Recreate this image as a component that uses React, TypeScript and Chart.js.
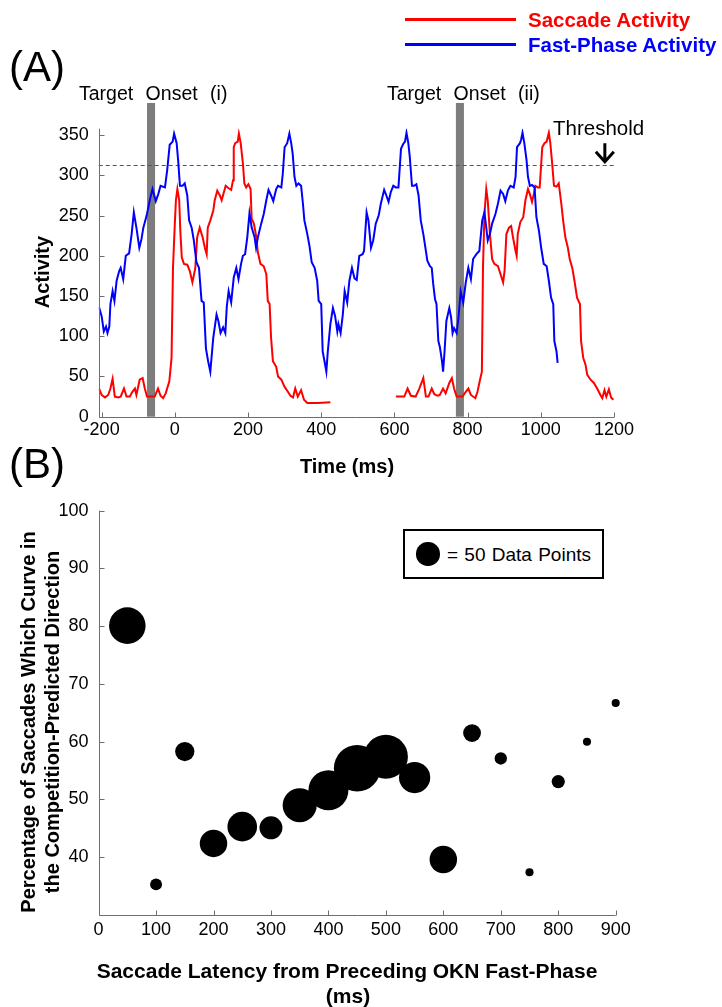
import React, { useEffect, useRef } from "react";
import { Chart, registerables } from "chart.js";

Chart.register(...registerables);

const FONT = '"Liberation Sans", Arial, Helvetica, sans-serif';

// ---------------- Panel A data ----------------
const timeTicks = [-200, 0, 200, 400, 600, 800, 1000, 1200];
const activityTicks = [0, 50, 100, 150, 200, 250, 300, 350];

const fastPhaseTimes = [
  -207, -200, -194, -188, -184, -179, -176, -170, -165, -159,
  -152, -148, -141, -134, -125, -118, -112, -105, -97, -91,
  -86, -77, -68, -61, -52, -45, -39, -27, -21, -14,
  -6, -2, 5, 9, 14, 21, 27, 34, 39, 46,
  52, 59, 66, 73, 79, 85, 91, 97, 105, 114,
  119, 125, 132, 138, 142, 147, 154, 161, 168, 174,
  181, 186, 192, 198, 204, 210, 218, 222, 227, 236,
  243, 250, 256, 263, 269, 277, 282, 291, 295, 300,
  307, 313, 318, 322, 327, 332, 338, 345, 350, 354,
  362, 368, 374, 382, 389, 393, 400, 404, 409, 414,
  418, 425, 432, 438, 444, 447, 453, 459, 464, 471,
  477, 484, 491, 497, 504, 513, 517, 524, 529, 536,
  542, 549, 557, 563, 572, 578, 584, 590, 597, 604,
  611, 618, 624, 629, 633, 638, 642, 648, 654, 660,
  666, 672, 679, 684, 690, 697, 702, 706, 711, 715,
  720, 724, 730, 733, 737, 742, 750, 755, 759, 763,
  770, 775, 781, 788, 795, 802, 809, 815, 824, 832,
  840, 846, 851, 855, 861, 867, 876, 883, 890, 897,
  903, 910, 917, 926, 931, 935, 943, 946, 950, 955,
  961, 965, 970, 976, 983, 988, 995, 1001, 1008, 1016,
  1022, 1028, 1034, 1037, 1043, 1046,
];
const fastPhaseActivity = [
  136, 125, 106, 112, 104, 112, 140, 156, 144, 169,
  181, 185, 171, 200, 203, 227, 254, 235, 210, 221,
  235, 250, 270, 283, 268, 277, 287, 285, 306, 338,
  342, 352, 340, 319, 287, 287, 290, 275, 244, 235,
  219, 192, 185, 144, 142, 85, 69, 56, 98, 127,
  119, 104, 111, 104, 137, 156, 142, 173, 185, 171,
  190, 200, 202, 223, 253, 235, 223, 210, 223, 240,
  252, 269, 282, 275, 268, 283, 287, 285, 302, 335,
  340, 352, 340, 327, 298, 287, 290, 287, 265, 244,
  227, 212, 192, 185, 169, 144, 140, 81, 69, 56,
  81, 115, 135, 125, 106, 115, 104, 127, 156, 142,
  169, 185, 172, 170, 200, 202, 206, 254, 244, 210,
  219, 240, 250, 265, 282, 275, 267, 279, 287, 285,
  285, 333, 339, 342, 353, 340, 323, 287, 287, 289,
  275, 244, 227, 212, 194, 187, 185, 165, 146, 140,
  94, 87, 69, 56, 81, 119, 135, 123, 104, 110,
  104, 123, 156, 142, 167, 185, 171, 196, 202, 206,
  244, 254, 235, 219, 227, 240, 252, 265, 281, 277,
  268, 281, 287, 285, 298, 335, 340, 344, 353, 340,
  319, 298, 287, 288, 285, 248, 231, 210, 190, 187,
  169, 148, 140, 94, 81, 67,
];

const saccadeTimes = [
  -207, -200, -191, -182, -176, -170, -164, -155, -148, -139,
  -132, -123, -116, -109, -105, -96, -88, -82, -76, -64,
  -55, -46, -39, -32, -25, -15, -9, -5, 0, 3,
  7, 12, 15, 19, 25, 34, 41, 48, 56, 61,
  68, 76, 82, 87, 90, 97, 105, 109, 116, 123,
  128, 134, 139, 147, 154, 159, 161, 165, 172, 175,
  180, 186, 190, 195, 201, 207, 210, 216, 222, 227,
  234, 243, 250, 254, 259, 263, 268, 277, 282, 291,
  300, 309, 316, 323, 329, 336, 345, 353, 362, 391,
  425, 500, 604, 627, 636, 645, 658, 668, 679, 686,
  693, 702, 709, 718, 724, 733, 740, 750, 757, 763,
  770, 786, 795, 802, 809, 821, 827, 833, 839, 842,
  846, 851, 855, 861, 867, 873, 883, 890, 897, 901,
  906, 913, 919, 924, 931, 934, 937, 944, 952, 958,
  965, 970, 976, 981, 985, 992, 997, 1004, 1010, 1016,
  1022, 1026, 1031, 1036, 1043, 1049, 1056, 1061, 1067, 1074,
  1079, 1086, 1092, 1099, 1107, 1110, 1116, 1122, 1127, 1136,
  1145, 1154, 1163, 1168, 1174, 1179, 1186, 1192, 1198,
];
const saccadeActivity = [
  35, 27, 24, 27, 35, 47, 25, 24, 25, 35,
  25, 25, 31, 35, 27, 46, 48, 35, 25, 25,
  25, 35, 26, 23, 29, 44, 73, 185, 240, 269,
  283, 269, 231, 198, 190, 189, 181, 167, 185, 223,
  235, 223, 210, 202, 235, 244, 256, 269, 281, 275,
  269, 279, 287, 284, 282, 294, 335, 340, 342, 352,
  340, 315, 290, 285, 289, 283, 246, 240, 225, 204,
  190, 187, 177, 144, 140, 98, 69, 62, 50, 46,
  37, 31, 26, 24, 35, 25, 33, 21, 17, 17,
  18, null, 25, 25, 35, 26, 25, 35, 48, 25,
  25, 35, 28, 26, 27, 35, 29, 42, 48, 35,
  25, 25, 31, 35, 27, 23, 31, 44, 56, 185,
  252, 283, 269, 227, 196, 190, 187, 177, 167, 181,
  227, 235, 237, 223, 206, 200, 227, 242, 248, 269,
  283, 277, 267, 277, 287, 285, 285, 335, 340, 342,
  353, 340, 315, 287, 286, 290, 265, 244, 223, 210,
  196, 185, 169, 148, 140, 94, 73, 65, 52, 46,
  42, 35, 27, 23, 33, 25, 34, 24, 21,
];

const targetOnsets = [-65, 779];
const onsetBarWidthMs = 22;
const onsetBarTop = 390;
const threshold = 313;
const thresholdArrowTime = 1175;

// ---------------- Panel B data ----------------
const latencyTicks = [0, 100, 200, 300, 400, 500, 600, 700, 800, 900];
const percentTicks = [40, 50, 60, 70, 80, 90, 100];
const latencies = [50, 100, 150, 200, 250, 300, 350, 400, 450, 500, 550, 600, 650, 700, 750, 800, 850, 900];
const percentages = [80.1, 35.3, 58.3, 42.4, 45.3, 45.1, 49.0, 51.6, 55.4, 57.4, 53.8, 39.6, 61.5, 57.1, 37.4, 53.1, 60.0, 66.7];
const pointCounts = [122, 13, 34, 69, 80, 48, 106, 146, 198, 177, 89, 69, 29, 14, 6, 16, 6, 6];
const legendCount = 50;
const legendRadius = 11.7;

const AXIS_COLOR = "#6e6e6e";

const matlabAxes = {
  id: "matlabAxes",
  afterDraw(chart: any) {
    const { ctx, chartArea: ca, scales } = chart;
    const x = scales.x;
    const y = scales.y;
    ctx.save();
    ctx.strokeStyle = AXIS_COLOR;
    ctx.lineWidth = 1;
    ctx.beginPath();
    const l = Math.round(ca.left) + 0.5;
    const b = Math.round(ca.bottom) + 0.5;
    ctx.moveTo(l, ca.top);
    ctx.lineTo(l, b);
    ctx.lineTo(ca.right, b);
    x.ticks.forEach((t: any) => {
      const px = Math.round(x.getPixelForValue(t.value)) + 0.5;
      ctx.moveTo(px, b);
      ctx.lineTo(px, b - 5);
    });
    y.ticks.forEach((t: any) => {
      const py = Math.round(y.getPixelForValue(t.value)) + 0.5;
      ctx.moveTo(l, py);
      ctx.lineTo(l + 5, py);
    });
    ctx.stroke();
    ctx.restore();
  },
};

const panelADecor = {
  id: "panelADecor",
  beforeDatasetsDraw(chart: any) {
    const { ctx, chartArea: ca, scales } = chart;
    const x = scales.x;
    const y = scales.y;
    ctx.save();
    ctx.fillStyle = "#7d7d7d";
    targetOnsets.forEach((t) => {
      const x0 = x.getPixelForValue(t - onsetBarWidthMs / 2);
      const x1 = x.getPixelForValue(t + onsetBarWidthMs / 2);
      const top = y.getPixelForValue(onsetBarTop);
      ctx.fillRect(x0, top, x1 - x0, ca.bottom - top);
    });
    const ty = Math.round(y.getPixelForValue(threshold)) + 0.5;
    ctx.strokeStyle = "#555";
    ctx.lineWidth = 1;
    ctx.setLineDash([4, 3]);
    ctx.beginPath();
    ctx.moveTo(ca.left, ty);
    ctx.lineTo(ca.right, ty);
    ctx.stroke();
    ctx.restore();
  },
  afterDraw(chart: any) {
    const { ctx, scales } = chart;
    const x = scales.x;
    const y = scales.y;
    const ax = x.getPixelForValue(thresholdArrowTime);
    const y0 = y.getPixelForValue(340);
    const y1 = y.getPixelForValue(317);
    ctx.save();
    ctx.strokeStyle = "#000";
    ctx.lineWidth = 3;
    ctx.lineCap = "butt";
    ctx.beginPath();
    ctx.moveTo(ax, y0);
    ctx.lineTo(ax, y1);
    ctx.moveTo(ax - 9, y1 - 10);
    ctx.lineTo(ax, y1);
    ctx.lineTo(ax + 9, y1 - 10);
    ctx.stroke();
    ctx.restore();
  },
};

const tickFont = { size: 18, family: FONT };

function Label(props: any) {
  const { x, y, align = "left", rotate = false, style = {}, children } = props;
  let transform = align === "center" ? "translate(-50%, -50%)" : "translate(0, -50%)";
  if (rotate) transform = "translate(-50%, -50%) rotate(-90deg)";
  return (
    <div
      style={{
        position: "absolute",
        left: x,
        top: y,
        transform,
        whiteSpace: "nowrap",
        lineHeight: 1,
        fontFamily: FONT,
        color: "#000",
        ...style,
      }}
    >
      {children}
    </div>
  );
}

export default function App() {
  const topRef = useRef<HTMLCanvasElement>(null);
  const botRef = useRef<HTMLCanvasElement>(null);

  useEffect(() => {
    Chart.defaults.font.family = FONT;

    const fastPhaseData = fastPhaseTimes.map((t, i) => ({ x: t, y: fastPhaseActivity[i] }));
    const saccadeData = saccadeTimes.map((t, i) => ({ x: t, y: saccadeActivity[i] }));

    const chartA = new Chart(topRef.current!, {
      type: "line",
      data: {
        datasets: [
          {
            label: "Fast-Phase Activity",
            data: fastPhaseData as any,
            borderColor: "#0000ff",
            borderWidth: 2,
            pointRadius: 0,
            tension: 0,
            spanGaps: false,
          },
          {
            label: "Saccade Activity",
            data: saccadeData as any,
            borderColor: "#ff0000",
            borderWidth: 2,
            pointRadius: 0,
            tension: 0,
            spanGaps: false,
          },
        ],
      },
      options: {
        animation: false,
        responsive: false,
        events: [],
        layout: { padding: { top: 128.7, right: 108, bottom: 0, left: 0 } },
        plugins: { legend: { display: false }, tooltip: { enabled: false } },
        scales: {
          x: {
            type: "linear",
            min: -208,
            max: 1200,
            afterBuildTicks: (s: any) => {
              s.ticks = timeTicks.map((v) => ({ value: v }));
            },
            afterFit: (s: any) => {
              s.height = 63.3;
            },
            grid: { display: false, drawTicks: false },
            border: { display: false },
            ticks: {
              font: tickFont,
              color: "#000",
              padding: 3,
              maxRotation: 0,
              autoSkip: false,
              callback: (v: any) => String(v),
            },
          },
          y: {
            type: "linear",
            min: 0,
            max: 358,
            afterBuildTicks: (s: any) => {
              s.ticks = activityTicks.map((v) => ({ value: v }));
            },
            afterFit: (s: any) => {
              s.width = 98.7;
            },
            grid: { display: false, drawTicks: false },
            border: { display: false },
            ticks: {
              font: tickFont,
              color: "#000",
              padding: 10,
              autoSkip: false,
              callback: (v: any) => String(v),
            },
          },
        },
      },
      plugins: [panelADecor, matlabAxes],
    });

    const bubbleData = latencies.map((lat, i) => ({
      x: lat,
      y: percentages[i],
      r: legendRadius * Math.sqrt(pointCounts[i] / legendCount),
    }));

    const chartB = new Chart(botRef.current!, {
      type: "bubble",
      data: {
        datasets: [
          {
            label: "Saccades",
            data: bubbleData,
            backgroundColor: "#000",
            borderWidth: 0,
            hoverRadius: 0,
            clip: false as any,
          },
        ],
      },
      options: {
        animation: false,
        responsive: false,
        events: [],
        layout: { padding: { top: 30.7, right: 106.3, bottom: 0, left: 0 } },
        plugins: { legend: { display: false }, tooltip: { enabled: false } },
        scales: {
          x: {
            type: "linear",
            min: 0,
            max: 900,
            afterBuildTicks: (s: any) => {
              s.ticks = latencyTicks.map((v) => ({ value: v }));
            },
            afterFit: (s: any) => {
              s.height = 92;
            },
            grid: { display: false, drawTicks: false },
            border: { display: false },
            ticks: {
              font: tickFont,
              color: "#000",
              padding: 4,
              maxRotation: 0,
              autoSkip: false,
              callback: (v: any) => String(v),
            },
          },
          y: {
            type: "linear",
            min: 30,
            max: 100,
            afterBuildTicks: (s: any) => {
              s.ticks = percentTicks.map((v) => ({ value: v }));
            },
            afterFit: (s: any) => {
              s.width = 98.6;
            },
            grid: { display: false, drawTicks: false },
            border: { display: false },
            ticks: {
              font: tickFont,
              color: "#000",
              padding: 10,
              autoSkip: false,
              callback: (v: any) => String(v),
            },
          },
        },
      },
      plugins: [matlabAxes],
    });

    return () => {
      chartA.destroy();
      chartB.destroy();
    };
  }, []);

  const boldTitle = { fontWeight: "bold", fontSize: 20 };
  const boldTitleB = { fontWeight: "bold", fontSize: 21 };

  return (
    <div
      style={{
        position: "absolute",
        left: 0,
        top: 0,
        width: 722,
        height: 1007,
        background: "#fff",
        overflow: "hidden",
        fontFamily: FONT,
      }}
    >
      <canvas
        ref={topRef}
        width={722}
        height={480}
        style={{ position: "absolute", left: 0, top: 0, width: 722, height: 480 }}
      />
      <canvas
        ref={botRef}
        width={722}
        height={527}
        style={{ position: "absolute", left: 0, top: 480, width: 722, height: 527 }}
      />

      {/* Panel A legend */}
      <div style={{ position: "absolute", left: 405, top: 17.5, width: 111, height: 3, background: "#ff0000" }} />
      <div style={{ position: "absolute", left: 405, top: 42.5, width: 111, height: 3, background: "#0000ff" }} />
      <Label x={528} y={20} style={{ ...boldTitle, fontSize: 20.5, color: "#ff0000" }}>Saccade Activity</Label>
      <Label x={528} y={45} style={{ ...boldTitle, fontSize: 20.5, color: "#0000ff" }}>Fast-Phase Activity</Label>

      <Label x={37} y={67} align="center" style={{ fontSize: 42 }}>(A)</Label>
      <Label x={37} y={464} align="center" style={{ fontSize: 42 }}>(B)</Label>

      <Label x={79} y={94} style={{ fontSize: 19.5, wordSpacing: 7 }}>Target Onset (i)</Label>
      <Label x={387} y={94} style={{ fontSize: 19.5, wordSpacing: 7 }}>Target Onset (ii)</Label>
      <Label x={553} y={128} style={{ fontSize: 20.5 }}>Threshold</Label>

      <Label x={42} y={272} rotate style={boldTitle}>Activity</Label>
      <Label x={347} y={466} align="center" style={boldTitle}>Time (ms)</Label>

      {/* Panel B titles */}
      <Label x={40} y={722} rotate style={{ fontWeight: "bold", fontSize: 20, lineHeight: "24px", textAlign: "center" }}>
        Percentage of Saccades Which Curve in
        <br />
        the Competition-Predicted Direction
      </Label>
      <Label x={347} y={970} align="center" style={boldTitleB}>Saccade Latency from Preceding OKN Fast-Phase</Label>
      <Label x={348} y={995} align="center" style={boldTitleB}>(ms)</Label>

      {/* Panel B size legend */}
      <div
        style={{
          position: "absolute",
          left: 403,
          top: 529,
          width: 201,
          height: 50,
          boxSizing: "border-box",
          border: "2px solid #000",
          background: "#fff",
        }}
      />
      <div
        style={{
          position: "absolute",
          left: 428 - legendRadius,
          top: 554 - legendRadius,
          width: legendRadius * 2,
          height: legendRadius * 2,
          borderRadius: "50%",
          background: "#000",
        }}
      />
      <Label x={447} y={554} style={{ fontSize: 19, wordSpacing: 1 }}>= 50 Data Points</Label>
    </div>
  );
}
